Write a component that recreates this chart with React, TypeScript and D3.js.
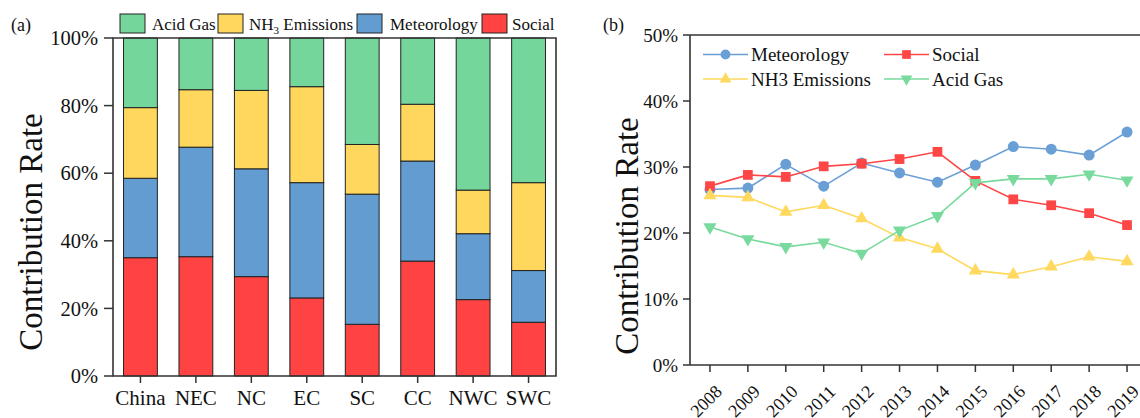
import React from "react";
import * as d3 from "d3";

const regions = ["China", "NEC", "NC", "EC", "SC", "CC", "NWC", "SWC"];
const socialShare = [35.0, 35.3, 29.4, 23.1, 15.3, 34.0, 22.6, 15.9];
const meteorologyShare = [23.5, 32.4, 31.9, 34.1, 38.5, 29.6, 19.5, 15.3];
const nh3Share = [20.9, 17.0, 23.2, 28.4, 14.7, 16.8, 12.9, 26.0];
const acidGasShare = [20.6, 15.3, 15.5, 14.4, 31.5, 19.6, 45.0, 42.8];

const years = ["2008", "2009", "2010", "2011", "2012", "2013", "2014", "2015", "2016", "2017", "2018", "2019"];
const meteorologyRate = [26.6, 26.8, 30.4, 27.1, 30.6, 29.1, 27.7, 30.3, 33.1, 32.7, 31.8, 35.3];
const socialRate = [27.1, 28.8, 28.5, 30.1, 30.5, 31.2, 32.3, 27.9, 25.1, 24.2, 23.0, 21.2];
const nh3Rate = [25.7, 25.4, 23.2, 24.2, 22.2, 19.3, 17.6, 14.3, 13.7, 14.9, 16.4, 15.7];
const acidGasRate = [20.9, 19.1, 17.9, 18.6, 16.9, 20.4, 22.6, 27.6, 28.2, 28.2, 28.9, 28.0];

const leftTicks = [0, 20, 40, 60, 80, 100];
const rightTicks = [0, 10, 20, 30, 40, 50];

const FONT = "'Liberation Serif', 'Times New Roman', serif";
const AX = "#333";

const barColors: Record<string, string> = {
  social: "#FF4343",
  meteorology: "#629CD1",
  nh3: "#FFD75C",
  acid: "#75D69C",
};
const lineColors: Record<string, string> = {
  meteorology: "#6A9FD6",
  social: "#FF4646",
  nh3: "#FFD85E",
  acid: "#78DA9C",
};

export default function App() {
  const W = 1140, H = 418;

  // ---- left panel ----
  const lx0 = 113, lx1 = 556, ly0 = 376, ly1 = 38;
  const xL = d3.scaleBand<string>().domain(regions).range([lx0, lx1]).paddingInner(0.39).paddingOuter(0.19);
  const yL = d3.scaleLinear().domain([0, 100]).range([ly0, ly1]);
  const table = regions.map((r, i) => ({
    region: r,
    social: socialShare[i],
    meteorology: meteorologyShare[i],
    nh3: nh3Share[i],
    acid: acidGasShare[i],
  }));
  const stacked = d3.stack<any>().keys(["social", "meteorology", "nh3", "acid"])(table);

  // ---- right panel ----
  const rx0 = 690, ry0 = 365, ry1 = 35;
  const xR = d3.scalePoint<string>().domain(years).range([691, 1146]).padding(0.5);
  const yR = d3.scaleLinear().domain([0, 50]).range([ry0, ry1]);
  const series = [
    { key: "meteorology", name: "Meteorology", values: meteorologyRate, sym: d3.symbolCircle, size: 95 },
    { key: "social", name: "Social", values: socialRate, sym: d3.symbolSquare, size: 95 },
    { key: "nh3", name: "NH3 Emissions", values: nh3Rate, sym: d3.symbolTriangle, size: 75 },
    { key: "acid", name: "Acid Gas", values: acidGasRate, sym: d3.symbolTriangle, size: 75, down: true },
  ];
  const line = d3.line<number>().x((_, i) => xR(years[i]) as number).y((v) => yR(v));

  const legendLeft = [
    { key: "acid", x: 120, tx: 152 },
    { key: "nh3", x: 218, tx: 249 },
    { key: "meteorology", x: 357, tx: 390 },
    { key: "social", x: 482, tx: 512 },
  ];

  const legendRight = [
    { s: series[0], x: 703, y: 54.5 },
    { s: series[1], x: 884, y: 54.5 },
    { s: series[2], x: 703, y: 79 },
    { s: series[3], x: 884, y: 79 },
  ];

  return (
    <div style={{ position: "fixed", left: 0, top: 0 }}>
      <svg width={W} height={H} style={{ display: "block", background: "#fff" }} fontFamily={FONT}>
        {/* ========== Panel (a) ========== */}
        <text x={11} y={31} fontSize={18} fill="#111">(a)</text>
        {/* legend */}
        {legendLeft.map((l) => (
          <g key={l.key}>
            <rect x={l.x} y={14} width={25} height={19} fill={barColors[l.key]} stroke="#222" strokeWidth={1} />
            <text x={l.tx} y={30} fontSize={17} fill="#111">
              {l.key === "acid" && "Acid Gas"}
              {l.key === "nh3" && (
                <>
                  NH<tspan fontSize={11} dy={4}>3</tspan>
                  <tspan dy={-4}> Emissions</tspan>
                </>
              )}
              {l.key === "meteorology" && "Meteorology"}
              {l.key === "social" && "Social"}
            </text>
          </g>
        ))}
        {/* bars */}
        {stacked.map((layer) => (
          <g key={layer.key}>
            {layer.map((d, i) => (
              <rect
                key={i}
                x={xL(regions[i])}
                y={yL(d[1])}
                width={xL.bandwidth()}
                height={yL(d[0]) - yL(d[1])}
                fill={barColors[layer.key]}
                stroke="#222"
                strokeWidth={1}
              />
            ))}
          </g>
        ))}
        {/* frame */}
        <path d={`M${lx0},${ly0}V${ly1}H${lx1}V${ly0}Z`} fill="none" stroke={AX} strokeWidth={1.6} />
        {leftTicks.map((t) => (
          <g key={t}>
            <line x1={lx0 - 9} x2={lx0} y1={yL(t)} y2={yL(t)} stroke={AX} strokeWidth={1.5} />
            <text x={98} y={yL(t)} dy="0.35em" textAnchor="end" fontSize={20.5} fill="#111">{t}%</text>
          </g>
        ))}
        {regions.map((r) => {
          const cx = (xL(r) as number) + xL.bandwidth() / 2;
          return (
            <g key={r}>
              <line x1={cx} x2={cx} y1={ly0} y2={ly0 + 7} stroke={AX} strokeWidth={1.5} />
              <text x={cx} y={405} textAnchor="middle" fontSize={21} fill="#111">{r}</text>
            </g>
          );
        })}
        <text transform="translate(30,232) rotate(-90)" textAnchor="middle" dy="0.35em" fontSize={33} fill="#111">
          Contribution Rate
        </text>

        {/* ========== Panel (b) ========== */}
        <text x={603} y={31} fontSize={18} fill="#111">(b)</text>
        <line x1={rx0} x2={W} y1={ry1} y2={ry1} stroke={AX} strokeWidth={1.6} />
        <line x1={rx0} x2={W} y1={ry0} y2={ry0} stroke={AX} strokeWidth={1.6} />
        <line x1={rx0} x2={rx0} y1={ry1} y2={ry0} stroke={AX} strokeWidth={1.6} />
        {rightTicks.map((t) => (
          <g key={t}>
            <line x1={rx0 - 7} x2={rx0} y1={yR(t)} y2={yR(t)} stroke={AX} strokeWidth={1.5} />
            <text x={678} y={yR(t)} dy="0.35em" textAnchor="end" fontSize={19} fill="#111">{t}%</text>
          </g>
        ))}
        {years.map((y) => {
          const cx = xR(y) as number;
          return (
            <g key={y}>
              <line x1={cx} x2={cx} y1={ry0} y2={ry0 + 7} stroke={AX} strokeWidth={1.5} />
              <text transform={`translate(${cx - 4},401) rotate(-45)`} textAnchor="middle" dy="0.35em" fontSize={18} fill="#111">
                {y}
              </text>
            </g>
          );
        })}
        <text transform="translate(626,236) rotate(-90)" textAnchor="middle" dy="0.35em" fontSize={33} fill="#111">
          Contribution Rate
        </text>
        {/* lines */}
        {series.map((s) => (
          <g key={s.key}>
            <path d={line(s.values) || ""} fill="none" stroke={lineColors[s.key]} strokeWidth={1.6} />
            {s.values.map((v, i) => (
              <path
                key={i}
                d={d3.symbol().type(s.sym).size(s.size)() || ""}
                transform={`translate(${xR(years[i])},${yR(v)})${s.down ? " rotate(180)" : ""}`}
                fill={lineColors[s.key]}
              />
            ))}
          </g>
        ))}
        {/* legend */}
        {legendRight.map(({ s, x, y }) => (
          <g key={s.key}>
            <line x1={x} x2={x + 45} y1={y} y2={y} stroke={lineColors[s.key]} strokeWidth={1.6} />
            <path
              d={d3.symbol().type(s.sym).size(s.size * 0.8)() || ""}
              transform={`translate(${x + 22.5},${y})${(s as any).down ? " rotate(180)" : ""}`}
              fill={lineColors[s.key]}
            />
            <text x={x + 48} y={y} dy="0.35em" fontSize={19} fill="#111">{s.name}</text>
          </g>
        ))}
      </svg>
    </div>
  );
}
